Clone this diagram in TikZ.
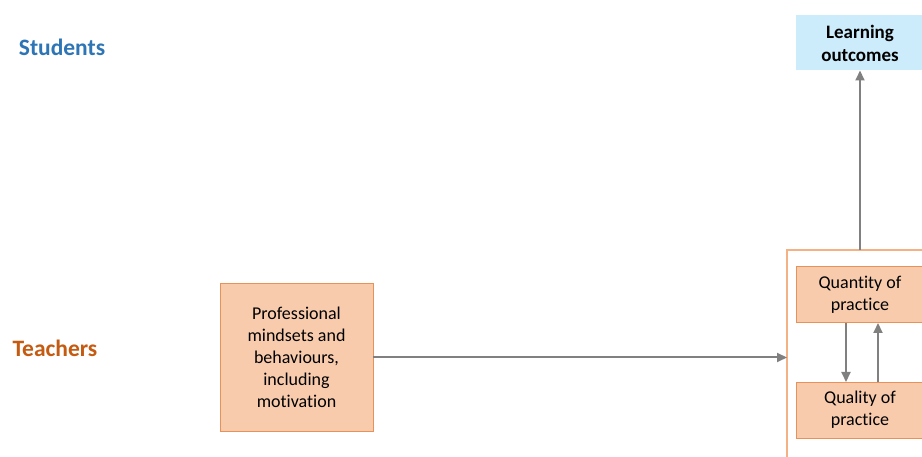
\documentclass[tikz,border=0pt]{standalone}
\usepackage{fontspec}
\setmainfont{Carlito}[Ligatures=NoCommon]
\usetikzlibrary{arrows.meta}
\definecolor{studentblue}{HTML}{2E75B6}
\definecolor{teacherorange}{HTML}{C55A11}
\definecolor{peach}{HTML}{F8CBAD}
\definecolor{peachline}{HTML}{E8925A}
\definecolor{framepeach}{HTML}{F4B183}
\definecolor{skyfill}{HTML}{CCEBFB}
\definecolor{arrowgray}{HTML}{808080}
\tikzset{
  rowlabel/.style={font=\fontsize{23.5}{28}\selectfont\bfseries, inner sep=0pt},
  peachbox/.style={draw=peachline, line width=1pt, fill=peach, align=center,
    inner sep=0pt, outer sep=0pt, font=\fontsize{18}{22}\selectfont},
  outcomebox/.style={fill=skyfill, align=center, inner sep=0pt, outer sep=0pt,
    font=\fontsize{19}{23}\selectfont\bfseries},
  framebox/.style={draw=framepeach, line width=2pt, inner sep=0pt, outer sep=0pt,
    minimum width=200pt, minimum height=230pt},
  conn/.style={draw=arrowgray, line width=2pt,
    -{Triangle[length=10pt,width=9pt,fill=arrowgray]}}
}
\begin{document}
\begin{tikzpicture}[x=1pt,y=-1pt]
\useasboundingbox (0,0) rectangle (922,457);
\clip (0,0) rectangle (922,457);
\fill[white] (0,0) rectangle (922,457);

% row labels
\node[rowlabel, text=studentblue] (students) at (62,47) {Students};
\node[rowlabel, text=teacherorange] (teachers) at (55,348) {Teachers};

% student outcome
\node[outcomebox, minimum width=128pt, minimum height=55pt] (outcomes)
  at (860,43) {Learning\\outcomes};

% teacher side
\node[peachbox, minimum width=153pt, minimum height=147pt] (mindsets)
  at (296.5,357.5) {Professional\\mindsets and\\behaviours,\\including\\motivation};

\node[framebox, anchor=north west] (practice) at (787,250) {};

\node[peachbox, minimum width=128pt, minimum height=56pt] (quantity)
  at (860,295) {Quantity of\\practice};
\node[peachbox, minimum width=128pt, minimum height=56pt] (quality)
  at (860,410) {Quality of\\practice};

% connectors
\draw[conn] (mindsets.east) -- (mindsets.east -| practice.west);
\draw[conn] (outcomes.south |- practice.north) -- (outcomes.south);
\draw[conn] ([xshift=-14pt]quantity.south) -- ([xshift=-14pt]quality.north);
\draw[conn] ([xshift=18pt]quality.north) -- ([xshift=18pt]quantity.south);
\end{tikzpicture}
\end{document}
